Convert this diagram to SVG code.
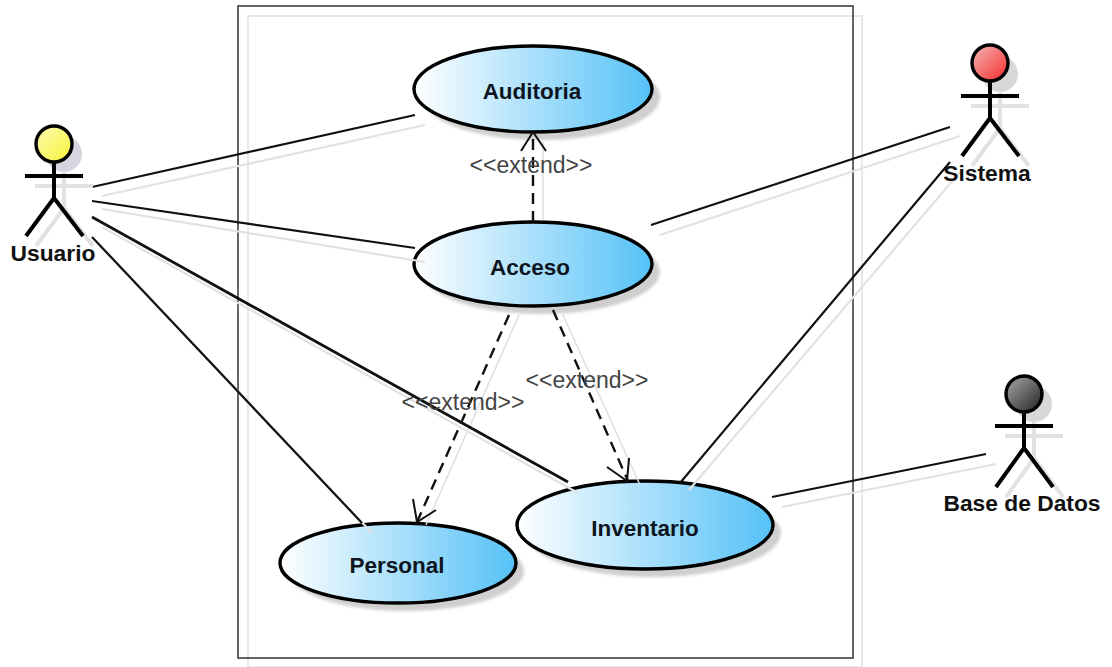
<svg xmlns="http://www.w3.org/2000/svg" width="1112" height="667" viewBox="0 0 1112 667">
<style>
text{font-family:"Liberation Sans",Arial,sans-serif}
.uc{font-size:22.5px;font-weight:bold;fill:#0e1520;text-anchor:middle}
.ac{font-size:22.8px;font-weight:bold;fill:#111;text-anchor:middle}
.st{font-size:23px;fill:#444;text-anchor:middle}
.e{stroke:#000;stroke-width:3.4;fill:url(#blue)}
.es{fill:#cfcfcf;stroke:none}
.l{stroke:#111;stroke-width:2.2;fill:none}
.lt{stroke:#111;stroke-width:2.8;fill:none}
.ls{stroke:#e2e2e2;stroke-width:2.2;fill:none}
.lt2{stroke:#dedede;stroke-width:1.5;fill:none}
.d{stroke:#111;stroke-width:2.4;fill:none;stroke-dasharray:11 7}
.a{stroke:#111;stroke-width:2;fill:none}
.b{stroke:#000;stroke-width:4;fill:none}
.bs{stroke:#e2e2e2;stroke-width:4;fill:none}
.h{stroke:#000;stroke-width:3.4}
</style>
<defs>
<linearGradient id="blue" x1="0" x2="1" y1="0" y2="0"><stop offset="0" stop-color="#fff"/><stop offset="1" stop-color="#55c1f7"/></linearGradient>
<linearGradient id="yel" x1="0" x2="1" y1="0" y2="1"><stop offset="0" stop-color="#fbfbb0"/><stop offset="1" stop-color="#f8f43a"/></linearGradient>
<linearGradient id="red" x1="0" x2="1" y1="0" y2="1"><stop offset="0" stop-color="#f4b8b8"/><stop offset="1" stop-color="#f62a2a"/></linearGradient>
<linearGradient id="gry" x1="0" x2="1" y1="0" y2="1"><stop offset="0" stop-color="#aaa"/><stop offset="1" stop-color="#222"/></linearGradient>
<filter id="soft" x="-20%" y="-20%" width="140%" height="140%"><feGaussianBlur stdDeviation="1.5"/></filter>
</defs>
<rect width="1112" height="667" fill="#fff"/>
<g id="boundary">
<rect x="248" y="16" width="614" height="651" fill="none" stroke="#e8e8e8" stroke-width="2"/>
<rect x="238" y="6" width="615" height="652" fill="none" stroke="#333" stroke-width="1.5"/>
</g>
<g id="auditoria"><ellipse class="es" cx="541" cy="97" rx="119" ry="43" filter="url(#soft)"/><ellipse class="e" cx="533" cy="89" rx="119" ry="43"/><text class="uc" x="532" y="99">Auditoria</text></g>
<g id="acceso"><ellipse class="es" cx="541" cy="272" rx="119" ry="42" filter="url(#soft)"/><ellipse class="e" cx="533" cy="264" rx="119" ry="42"/><text class="uc" x="530" y="275">Acceso</text></g>
<g id="inventario"><ellipse class="es" cx="653" cy="533" rx="128" ry="44" filter="url(#soft)"/><ellipse class="e" cx="645" cy="525" rx="128" ry="44"/><text class="uc" x="645" y="536">Inventario</text></g>
<g id="personal"><ellipse class="es" cx="406" cy="571" rx="118" ry="40" filter="url(#soft)"/><ellipse class="e" cx="398" cy="563" rx="118" ry="40"/><text class="uc" x="397" y="573">Personal</text></g>
<g id="connectors">
<path class="ls" d="M102 196L425 125M102 209L425 262M102 227L578 493M102 247L372 533M660 235L960 136M689 490L960 172M782 507L996 464"/>
<path class="lt2" d="M543 220V142M519 315L426 525M563 315L640 485"/>
<path class="l" d="M92 187L415 115M92 201L415 248M92 237L362 523M651 225L950 127M680 483L950 162M772 497L986 454"/>
<path class="lt" d="M92 217L568 482"/>
<path class="d" d="M533 222V133M509 315L417 522M553 310L628 481"/>
<path class="a" d="M521 151L533 132L546 151M413 499L417 522L436 510M607 467L627 481L629 458"/>
</g>
<g id="labels">
<text class="st" x="531" y="173">&lt;&lt;extend&gt;&gt;</text>
<text class="st" x="587" y="388">&lt;&lt;extend&gt;&gt;</text>
<text class="st" x="463" y="410">&lt;&lt;extend&gt;&gt;</text>
</g>
<g id="usuario">
<circle cx="64" cy="154" r="18" fill="#d6d6e0"/>
<path class="bs" d="M35 186H93M64 172V208L36 246M64 208L93 246"/>
<path class="b" d="M25 176H83M54 162V198L26 236M54 198L83 236"/>
<circle class="h" cx="54" cy="144" r="18" fill="url(#yel)"/>
<text class="ac" x="53" y="261">Usuario</text>
</g>
<g id="sistema">
<circle cx="1000" cy="74" r="18" fill="#d8d8d8"/>
<path class="bs" d="M971 106H1029M1000 92V128L972 166M1000 128L1029 166"/>
<path class="b" d="M961 96H1019M990 82V118L962 156M990 118L1019 156"/>
<circle class="h" cx="990" cy="63" r="18" fill="url(#red)"/>
<text class="ac" x="987" y="181">Sistema</text>
</g>
<g id="base-de-datos">
<circle cx="1034" cy="404" r="18" fill="#d8d8d8"/>
<path class="bs" d="M1005 436H1063M1034 422V458L1006 497M1034 458L1063 497"/>
<path class="b" d="M995 426H1053M1024 412V448L996 487M1024 448L1053 487"/>
<circle class="h" cx="1024" cy="394" r="18" fill="url(#gry)"/>
<text class="ac" x="1022" y="511">Base de Datos</text>
</g>
</svg>
